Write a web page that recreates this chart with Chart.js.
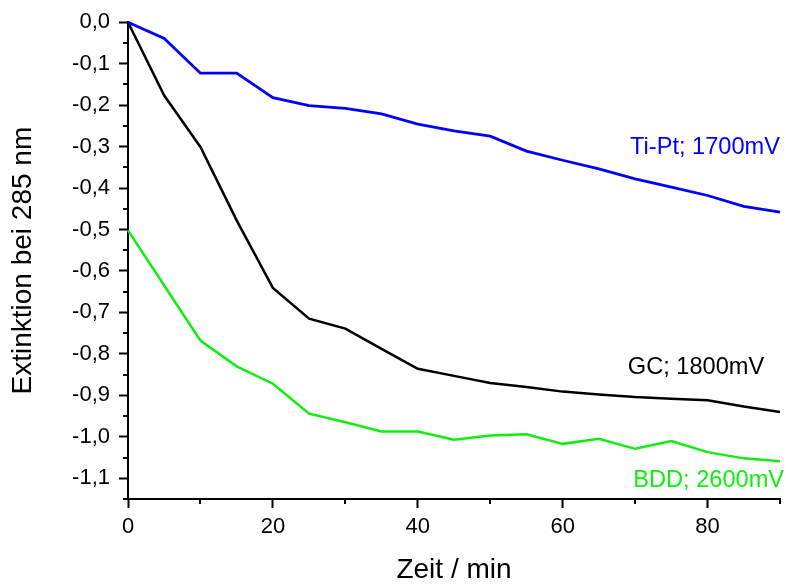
<!DOCTYPE html>
<html>
<head>
<meta charset="utf-8">
<script src="https://cdn.jsdelivr.net/npm/chart.js@4.4.1/dist/chart.umd.min.js"></script>
<style>
  html, body { margin: 0; padding: 0; background: #fff; }
  #wrap { width: 786px; height: 584px; }
</style>
</head>
<body>
<div id="wrap"><canvas id="chart" width="786" height="584"></canvas></div>
<script>
// Zeit in Minuten
const zeit = [0, 5, 10, 15, 20, 25, 30, 35, 40, 45, 50, 55, 60, 65, 70, 75, 80, 85, 90];

// Extinktion bei 285 nm
const tiPt = [0, -0.039, -0.123, -0.123, -0.182, -0.201, -0.208, -0.221, -0.246, -0.262,
              -0.275, -0.311, -0.333, -0.354, -0.378, -0.398, -0.418, -0.444, -0.458];
const gc   = [0, -0.177, -0.301, -0.478, -0.641, -0.715, -0.739, -0.788, -0.836, -0.853,
              -0.870, -0.880, -0.891, -0.898, -0.904, -0.908, -0.912, -0.927, -0.940];
const bdd  = [-0.502, -0.635, -0.768, -0.830, -0.872, -0.944, -0.965, -0.987, -0.987, -1.007,
              -0.997, -0.994, -1.017, -1.005, -1.029, -1.010, -1.037, -1.052, -1.059];

const serienNamen = ["Ti-Pt; 1700mV", "GC; 1800mV", "BDD; 2600mV"];
const serienFarben = ["#0000ff", "#000000", "#10ee10"];

const xTitel = "Zeit / min";
const yTitel = "Extinktion bei 285 nm";

const FONT = 'Arial, "Liberation Sans", sans-serif';

function punkte(werte) {
    return zeit.map((t, i) => ({ x: t, y: werte[i] }));
}

function istHaupt(v, schritt) {
    const q = v / schritt;
    return Math.abs(q - Math.round(q)) < 1e-6;
}

// Beschriftung der Kurven (Position in Datenkoordinaten)
const beschriftungPos = [
    { x: 69.3, y: -0.317 },
    { x: 69.0, y: -0.848 },
    { x: 69.75, y: -1.121 }
];

const kurvenText = {
    id: "kurvenText",
    afterDatasetsDraw(chart) {
        const ctx = chart.ctx;
        const xs = chart.scales.x, ys = chart.scales.y;
        ctx.save();
        ctx.font = "23.6px " + FONT;
        ctx.textAlign = "left";
        ctx.textBaseline = "alphabetic";
        serienNamen.forEach((name, i) => {
            ctx.fillStyle = serienFarben[i];
            ctx.fillText(name, xs.getPixelForValue(beschriftungPos[i].x), ys.getPixelForValue(beschriftungPos[i].y));
        });
        ctx.restore();
    }
};

// kurze Zwischenstriche
const nebenStriche = {
    id: "nebenStriche",
    afterDraw(chart) {
        const ctx = chart.ctx;
        const area = chart.chartArea;
        const xs = chart.scales.x, ys = chart.scales.y;
        ctx.save();
        ctx.strokeStyle = "#000";
        ctx.lineWidth = 2;
        ctx.beginPath();
        xs.ticks.forEach(t => {
            if (!istHaupt(t.value, 20)) {
                const px = Math.round(xs.getPixelForValue(t.value));
                ctx.moveTo(px, area.bottom);
                ctx.lineTo(px, area.bottom + 5);
            }
        });
        ys.ticks.forEach(t => {
            if (!istHaupt(t.value, 0.1)) {
                const py = Math.round(ys.getPixelForValue(t.value));
                ctx.moveTo(area.left, py);
                ctx.lineTo(area.left - 5, py);
            }
        });
        ctx.stroke();
        ctx.restore();
    }
};

const datensaetze = [tiPt, gc, bdd].map((werte, i) => ({
    label: serienNamen[i],
    data: punkte(werte),
    borderColor: serienFarben[i],
    backgroundColor: serienFarben[i],
    borderWidth: i === 0 ? 2.8 : 2.5,
    pointRadius: 0,
    tension: 0,
    clip: 4
}));

new Chart(document.getElementById("chart"), {
    type: "line",
    data: { datasets: datensaetze },
    options: {
        responsive: false,
        animation: false,
        layout: { padding: { top: 22, right: 6, left: 0, bottom: 0 } },
        plugins: {
            legend: { display: false },
            tooltip: { enabled: false }
        },
        scales: {
            x: {
                type: "linear",
                min: 0,
                max: 90,
                afterFit(s) { s.height = 85; },
                border: { display: true, color: "#000", width: 2 },
                grid: {
                    drawOnChartArea: false,
                    drawTicks: true,
                    tickLength: 9,
                    tickWidth: 2,
                    tickColor: c => istHaupt(c.tick.value, 20) ? "#000" : "rgba(0,0,0,0)"
                },
                ticks: {
                    stepSize: 10,
                    padding: 6,
                    maxRotation: 0,
                    autoSkip: false,
                    color: "#000",
                    font: { family: FONT, size: 22 },
                    callback: v => istHaupt(v, 20) ? String(Math.round(v)) : ""
                },
                title: {
                    display: true,
                    text: xTitel,
                    color: "#000",
                    font: { family: FONT, size: 28, lineHeight: 1 },
                    padding: { top: 0, bottom: 0 }
                }
            },
            y: {
                type: "linear",
                min: -1.15,
                max: 0,
                afterFit(s) { s.width = 128; },
                border: { display: true, color: "#000", width: 2 },
                grid: {
                    drawOnChartArea: false,
                    drawTicks: true,
                    tickLength: 9,
                    tickWidth: 2,
                    tickColor: c => istHaupt(c.tick.value, 0.1) ? "#000" : "rgba(0,0,0,0)"
                },
                ticks: {
                    stepSize: 0.05,
                    padding: 9,
                    autoSkip: false,
                    color: "#000",
                    font: { family: FONT, size: 22 },
                    callback: v => istHaupt(v, 0.1) ? (Math.round(v * 10) / 10).toFixed(1).replace(".", ",") : ""
                },
                title: {
                    display: true,
                    text: yTitel,
                    color: "#000",
                    font: { family: FONT, size: 28, lineHeight: 1 },
                    padding: { top: 9, bottom: 0 }
                }
            }
        }
    },
    plugins: [kurvenText, nebenStriche]
});
</script>
</body>
</html>
